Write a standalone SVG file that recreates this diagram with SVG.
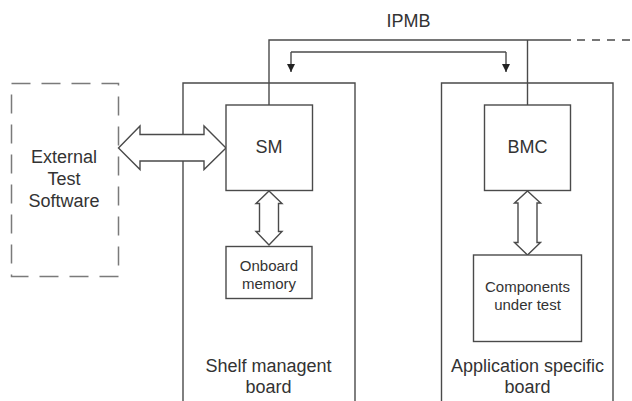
<svg xmlns="http://www.w3.org/2000/svg" width="632" height="401" viewBox="0 0 632 401">
<style>
.ln{fill:none;stroke:#4a4a4a;stroke-width:1.4}
.box{fill:#fff;stroke:#4a4a4a;stroke-width:1.4}
.dash{fill:none;stroke:#7a7a7a;stroke-width:1.5;stroke-dasharray:19 11}
.big{font-family:"Liberation Sans",Arial,sans-serif;font-size:18px;fill:#333;text-anchor:middle}
.sm{font-family:"Liberation Sans",Arial,sans-serif;font-size:15px;fill:#333;text-anchor:middle}
</style>
<defs>
<marker id="ah" viewBox="0 0 8 10" refX="8" refY="5" markerWidth="8" markerHeight="10" markerUnits="userSpaceOnUse" orient="auto">
<path d="M0,1 L8,5 L0,9 Z" fill="#222"/>
</marker>
</defs>
<rect width="632" height="401" fill="#fff"/>
<g id="shelf-board">
<path class="ln" d="M183,401 V83 H355 V401"/>
<text class="big" x="268.5" y="372">Shelf managent</text>
<text class="big" x="268.5" y="393">board</text>
</g>
<g id="app-board">
<path class="ln" d="M441.5,401 V83 H613 V401"/>
<text class="big" x="527.5" y="372">Application specific</text>
<text class="big" x="527.5" y="393">board</text>
</g>
<g id="connectors">
<path class="ln" d="M269,105 V40 H571"/>
<path fill="none" stroke="#4a4a4a" stroke-width="1.4" stroke-dasharray="8 7" d="M577,40 H632"/>
<path class="ln" d="M527.5,40 V105"/>
<path class="ln" d="M291,52 H506"/>
<path class="ln" d="M506,52 V72" marker-end="url(#ah)"/>
<path class="ln" d="M291,52 V72" marker-end="url(#ah)"/>
<polygon class="box" points="118.5,148 140,126 140,134.5 204,134.5 204,126 226,148 204,169.5 204,161 140,161 140,169.5"/>
<polygon class="box" points="269,191 282,203.5 278.5,203.5 278.5,231.5 282,231.5 269,245 256,231.5 259.5,231.5 259.5,203.5 256,203.5"/>
<polygon class="box" points="527.5,191 540.5,203 537,203 537,242.5 540.5,242.5 527.5,255 514.5,242.5 518,242.5 518,203 514.5,203"/>
</g>
<g id="ipmb-label">
<text class="big" x="408.5" y="27">IPMB</text>
</g>
<g id="external">
<rect class="dash" x="11.5" y="83.5" width="107" height="193"/>
<text class="big" x="64" y="163">External</text>
<text class="big" x="64" y="185">Test</text>
<text class="big" x="64" y="207">Software</text>
</g>
<g id="sm">
<rect class="box" x="226" y="105" width="86.5" height="85.5"/>
<text class="big" x="269" y="153">SM</text>
</g>
<g id="bmc">
<rect class="box" x="484.5" y="105" width="86" height="85.5"/>
<text class="big" x="527.5" y="153">BMC</text>
</g>
<g id="memory">
<rect class="box" x="226" y="246.5" width="86" height="52"/>
<text class="sm" x="269" y="271">Onboard</text>
<text class="sm" x="269" y="288.5">memory</text>
</g>
<g id="components">
<rect class="box" x="473.5" y="255" width="108" height="86.5"/>
<text class="sm" x="527.5" y="292">Components</text>
<text class="sm" x="527.5" y="310">under test</text>
</g>
</svg>
